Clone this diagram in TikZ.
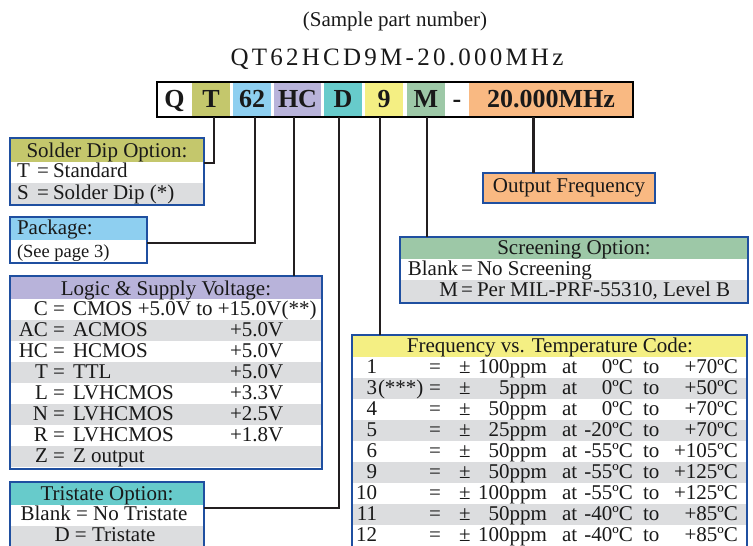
\documentclass[tikz,border=0pt]{standalone}
\usepackage{fontspec}
\setmainfont{Liberation Serif}
\usetikzlibrary{positioning,calc}

\definecolor{frameblue}{HTML}{1F4FA0}
\definecolor{rowgrey}{HTML}{DCDDDF}
\definecolor{oliveT}{HTML}{C4C76C}
\definecolor{blueP}{HTML}{8ECFF0}
\definecolor{lilacL}{HTML}{B8B3DA}
\definecolor{tealD}{HTML}{67CBCB}
\definecolor{yellowF}{HTML}{F4EF83}
\definecolor{greenM}{HTML}{9DC8A7}
\definecolor{orangeO}{HTML}{F9B982}
\definecolor{inkline}{HTML}{231F20}

\newcommand{\bodyfont}{\fontsize{21}{22}\selectfont}

\begin{document}
\begin{tikzpicture}[x=1pt, y=-1pt,
  every node/.style={inner sep=0pt, outer sep=0pt, font=\bodyfont, text=black!90},
  seg/.style={minimum height=35pt, text height=15pt, text depth=0pt,
    font=\fontsize{26}{26}\selectfont\bfseries},
  frame/.style={draw=frameblue, line width=2pt, anchor=north west},
  conn/.style={draw=inkline, line width=2.2pt}
]
  \useasboundingbox (0,0) rectangle (753,546);
  \clip (0,0) rectangle (753,546);

  % Part number
  \node[anchor=base] (sample) at (395,27) {(Sample part number)};
  \node[anchor=base, font=\fontsize{25}{25}\selectfont\addfontfeature{LetterSpace=13}] (pn) at (397,65) {QT62HCD9M-20.000MHz};

  \node[seg, minimum width=35pt, anchor=north west] (pQ) at (157,82) {Q};
  \node[seg, fill=oliveT, minimum width=38pt, right=0pt of pQ] (pT) {T};
  \node[seg, fill=blueP, minimum width=38pt, right=3pt of pT] (p62) {62};
  \node[seg, fill=lilacL, minimum width=47pt, right=3pt of p62] (pHC) {HC};
  \node[seg, fill=tealD, minimum width=38pt, right=3pt of pHC] (pD) {D};
  \node[seg, fill=yellowF, minimum width=38pt, right=3pt of pD] (p9) {9};
  \node[seg, fill=greenM, minimum width=38pt, right=4pt of p9] (pM) {M};
  \node[seg, minimum width=24pt, right=0pt of pM] (pdash) {-};
  \node[seg, fill=orangeO, minimum width=164pt, right=0pt of pdash] (pF) {20.000MHz};
  \draw[line width=2.6pt] (pQ.north west) rectangle (pF.south east);

  % Solder dip
  \fill[oliveT] (10,138) rectangle (204,162);
  \fill[rowgrey] (10,183) rectangle (204,205);
  \node[frame, minimum width=194pt, minimum height=67pt] (solder) at (10,138) {};
  \node[anchor=base] (solderhd) at (107,157) {Solder Dip Option:};
  \node[anchor=base west] (solT) at (17,177) {T};
  \node[anchor=base] (solTeq) at (43,177) {=};
  \node[anchor=base west] (solTtx) at (53,177) {Standard};
  \node[anchor=base west] (solS) at (17,199) {S};
  \node[anchor=base] (solSeq) at (43,199) {=};
  \node[anchor=base west] (solStx) at (53,199) {Solder Dip (*)};

  % Package
  \fill[blueP] (10,217) rectangle (147,240);
  \node[frame, minimum width=137pt, minimum height=46pt] (package) at (10,217) {};
  \node[anchor=base west] (packhd) at (17,234) {Package:};
  \node[anchor=base west, font=\fontsize{18.5}{20}\selectfont] (packtx) at (17,257) {(See page 3)};

  % Logic & supply voltage
  \fill[lilacL] (10,276) rectangle (322,299);
  \foreach \r in {320,362,404,446}
    \fill[rowgrey] (10,\r) rectangle (322,{\r+21});
  \node[frame, minimum width=312pt, minimum height=193pt] (logic) at (10,276) {};
  \node[anchor=base] (logichd) at (166,295) {Logic \& Supply Voltage:};
  \foreach \code/\desc/\volt [count=\i] in {C/{CMOS +5.0V to +15.0V(**)}/{}, AC/ACMOS/+5.0V,
      HC/HCMOS/+5.0V, T/TTL/+5.0V, L/LVHCMOS/+3.3V, N/LVHCMOS/+2.5V, R/LVHCMOS/+1.8V, Z/Z output/{}} {
    \node[anchor=base east] (lgc\i) at (48,{294+21*\i}) {\code};
    \node[anchor=base] (lge\i) at (59,{294+21*\i}) {=};
    \node[anchor=base west] (lgd\i) at (73,{294+21*\i}) {\desc};
    \node[anchor=base west] (lgv\i) at (230,{294+21*\i}) {\volt};
  }

  % Tristate
  \fill[tealD] (10,482) rectangle (204,505);
  \fill[rowgrey] (10,526) rectangle (204,548);
  \node[frame, minimum width=194pt, minimum height=67pt] (tristate) at (10,482) {};
  \node[anchor=base] (trihd) at (107,500) {Tristate Option:};
  \node[anchor=base] (triblank) at (104,520) {Blank = No Tristate};
  \node[anchor=base] (triD) at (105,541) {D = Tristate};

  % Output frequency
  \node[frame, fill=orangeO, minimum width=172pt, minimum height=30pt] (outfreq) at (483,173) {Output Frequency};

  % Screening
  \fill[greenM] (400,237) rectangle (748,259);
  \fill[rowgrey] (400,280) rectangle (748,303);
  \node[frame, minimum width=348pt, minimum height=66pt] (screening) at (400,237) {};
  \node[anchor=base] (scrhd) at (574,254) {Screening Option:};
  \node[anchor=base east] (scrB) at (458,275) {Blank};
  \node[anchor=base] (scrBeq) at (467,275) {=};
  \node[anchor=base west] (scrBtx) at (477,275) {No Screening};
  \node[anchor=base east] (scrM) at (458,296) {M};
  \node[anchor=base] (scrMeq) at (467,296) {=};
  \node[anchor=base west] (scrMtx) at (477,296) {Per MIL-PRF-55310, Level B};

  % Frequency vs. temperature
  \fill[yellowF] (352,335) rectangle (747,357);
  \foreach \r in {378,420,462,504}
    \fill[rowgrey] (352,\r) rectangle (747,{\r+21});
  \node[frame, minimum width=395pt, minimum height=215pt] (freqtemp) at (352,335) {};
  \node[anchor=base] (freqhd) at (550,352) {Frequency vs. Temperature Code:};
  \foreach \code/\ppm/\lo/\hi [count=\i] in {1/100/0/+70, 3/5/0/+50, 4/50/0/+70, 5/25/-20/+70,
      6/50/-55/+105, 9/50/-55/+125, 10/100/-55/+125, 11/50/-40/+85, 12/100/-40/+85} {
    \node[anchor=base east] (fc\i) at (377,{352+21*\i}) {\code};
    \node[anchor=base] (fe\i) at (435,{352+21*\i}) {=};
    \node[anchor=base] (fpm\i) at (465,{352+21*\i}) {±};
    \node[anchor=base east] (fp\i) at (547,{352+21*\i}) {\ppm ppm};
    \node[anchor=base west] (fa\i) at (562,{352+21*\i}) {at};
    \node[anchor=base east] (fl\i) at (633,{352+21*\i}) {\lo ºC};
    \node[anchor=base west] (ft\i) at (643,{352+21*\i}) {to};
    \node[anchor=base east] (fh\i) at (738,{352+21*\i}) {\hi ºC};
  }
  \node[anchor=base west] (fnote) at (378,394) {(***)};

  % Connectors
  \draw[conn] ([xshift=3pt]pT.south) |- ([yshift=8.5pt]solder.east);
  \draw[conn] ([xshift=3pt]p62.south) |- ([yshift=-3pt]package.east);
  \draw[conn] ([xshift=-3.5pt]pHC.south) -- ([xshift=-3.5pt]pHC.south |- logic.north);
  \draw[conn] ([xshift=-4pt]pD.south) |- ([yshift=7.5pt]tristate.east);
  \draw[conn] ([xshift=-4pt]p9.south) -- ([xshift=-4pt]p9.south |- freqtemp.north);
  \draw[conn] ([xshift=1pt]pM.south) -- ([xshift=1pt]pM.south |- screening.north);
  \draw[conn] ([xshift=-17.5pt]pF.south) -- ([xshift=-17.5pt]pF.south |- outfreq.north);
\end{tikzpicture}
\end{document}
